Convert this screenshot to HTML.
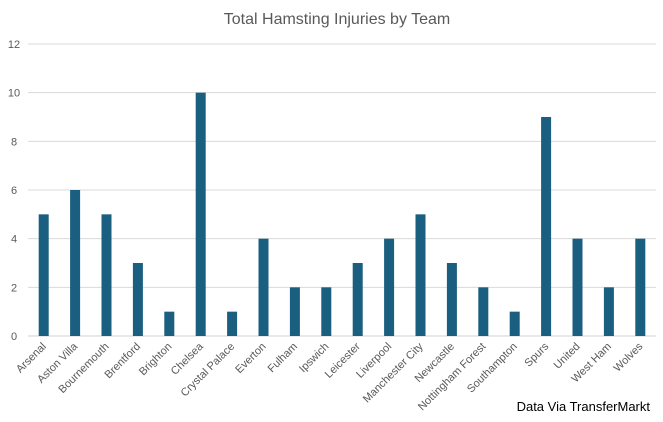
<!DOCTYPE html>
<html><head><meta charset="utf-8"><style>
body{margin:0;background:#fff;font-family:"Liberation Sans",sans-serif}
</style></head><body>
<svg id="chart" width="663" height="417" xmlns="http://www.w3.org/2000/svg">
<rect width="663" height="417" fill="#fff"/>
<text x="337" y="24" text-anchor="middle" font-size="16" fill="#595959" font-family="Liberation Sans, sans-serif">Total Hamsting Injuries by Team</text>
<g id="grid"></g><g id="bars"></g><g id="xlabels"></g>
<text x="650" y="411" text-anchor="end" font-size="13" fill="#000" font-family="Liberation Sans, sans-serif">Data Via TransferMarkt</text>
</svg>
<script>
const categories=["Arsenal","Aston Villa","Bournemouth","Brentford","Brighton","Chelsea","Crystal Palace","Everton","Fulham","Ipswich","Leicester","Liverpool","Manchester City","Newcastle","Nottingham Forest","Southampton","Spurs","United","West Ham","Wolves"];
const injuries=[5,6,5,3,1,10,1,4,2,2,3,4,5,3,2,1,9,4,2,4];
const yTicks=[0,2,4,6,8,10,12];
const NS="http://www.w3.org/2000/svg";
const x0=28,x1=656,y0=336,y1=44,yMax=12;
const step=(x1-x0)/categories.length;
const yS=v=>y0-(v/yMax)*(y0-y1);
const xS=i=>x0+step*(i+0.5);
function mk(t,a,p){const e=document.createElementNS(NS,t);for(const k in a)e.setAttribute(k,a[k]);p.appendChild(e);return e;}
const grid=document.getElementById('grid'),bars=document.getElementById('bars'),xl=document.getElementById('xlabels');
yTicks.forEach(v=>{
 const l=mk('line',{x1:x0,x2:x1,y1:yS(v),y2:yS(v),stroke:v===0?'#d0d0d0':'#d9d9d9','stroke-width':1},grid);
 
 
 const t=mk('text',{x:14,y:yS(v)+4,'text-anchor':'middle','font-size':11,fill:'#595959'},grid);
 t.textContent=v;
 
 
});
categories.forEach((c,i)=>{
 const r=mk('rect',{x:xS(i)-5,y:yS(injuries[i]),width:10,height:y0-yS(injuries[i]),fill:'#1a5e80'},bars);
 
 
 const t=mk('text',{x:xS(i)+3,y:347,'text-anchor':'end','font-size':11,fill:'#595959',transform:`rotate(-45 ${xS(i)+3} 347)`},xl);
 t.textContent=c;
 
 
});
</script>
</body></html>
